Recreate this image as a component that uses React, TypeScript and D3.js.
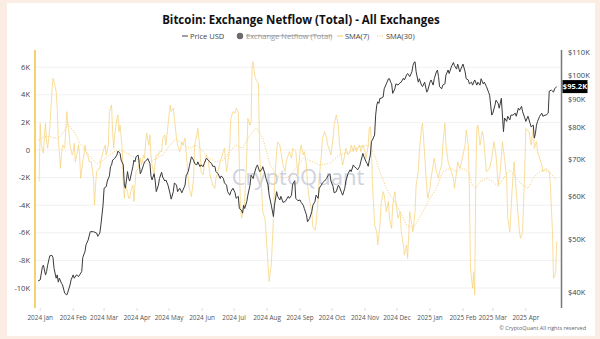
import React from "react";
import * as d3 from "d3";

const TITLE = "Bitcoin: Exchange Netflow (Total) - All Exchanges";
const LEGEND_PRICE = "Price USD";
const LEGEND_NETFLOW = "Exchange Netflow (Total)";
const LEGEND_SMA7 = "SMA(7)";
const LEGEND_SMA30 = "SMA(30)";
const COPYRIGHT = "© CryptoQuant All rights reserved";
const WATERMARK = "CryptoQuant";
const LAST_PRICE_LABEL = "$95.2K";

// day offset from 2023-12-29 (UTC)
const START = Date.UTC(2023, 11, 29);

// [day, BTC price in $K]
const PRICE: [number, number][] = [
  [1,41.9],[3,42.1],[5,44.4],[6,44.8],[8,43.0],[9,43.6],[10,44.8],[12,46.6],[14,46.7],[15,46.3],[16,44.2],[18,42.4],[19,43.0],[20,41.7],[21,42.4],[23,41.5],[24,41.2],[26,39.8],[28,39.5],[29,40.0],[31,41.2],[32,42.1],[34,43.0],[35,42.4],[37,43.0],[39,42.7],[40,43.0],[42,43.6],[43,46.3],[45,47.4],[46,48.8],[48,49.8],[50,51.6],[53,51.6],[56,51.3],[57,50.6],[59,51.3],[60,53.1],[62,57.7],[63,62.0],[65,62.4],[66,63.9],[68,65.3],[69,67.9],[70,68.4],[71,69.8],[73,70.3],[75,71.3],[76,72.5],[78,71.8],[79,69.8],[81,68.4],[82,62.8],[83,62.0],[85,66.5],[86,64.6],[87,63.9],[89,66.5],[90,67.9],[91,69.8],[92,69.3],[93,70.8],[95,71.3],[96,68.8],[97,65.9],[98,66.5],[100,68.4],[101,69.3],[103,69.8],[104,70.3],[106,68.8],[107,65.3],[108,64.2],[110,65.9],[111,63.9],[112,61.1],[114,62.8],[115,64.6],[117,66.3],[118,65.0],
  [120,63.9],[121,64.2],[123,62.8],[125,60.5],[126,59.2],[128,61.1],[129,63.4],[131,62.8],[132,61.1],[134,62.0],[136,60.8],[137,61.5],[139,62.8],[140,65.3],[142,66.5],[143,67.9],[145,70.8],[147,69.8],[148,68.8],[150,68.4],[151,69.3],[153,67.9],[154,68.4],[156,67.9],[157,68.8],[159,70.3],[161,69.8],[162,69.3],[164,68.8],[165,68.0],[167,68.0],[168,66.5],[170,65.9],[172,64.6],[173,65.3],[175,64.6],[176,63.4],[178,62.8],[179,61.1],[181,60.2],[182,61.1],[184,62.0],[186,60.8],[187,59.4],[189,59.9],[190,56.9],[192,56.5],[193,55.8],[194,57.7],[195,56.9],[197,58.6],[198,60.2],[200,62.8],[201,65.5],[203,64.6],[204,65.9],[206,67.9],[207,68.4],[209,66.5],[211,67.0],[212,67.9],[214,65.9],[215,64.6],[217,62.8],[218,60.2],[220,57.7],[222,55.0],[223,57.7],[225,61.1],[226,59.9],[228,59.0],[229,59.9],[231,58.4],[233,58.6],[234,59.0],[236,59.9],[237,59.4],[239,60.2],
  [240,63.0],[242,64.0],[243,59.4],[245,58.8],[247,59.0],[248,58.4],[250,57.7],[251,56.9],[253,55.4],[254,53.8],[256,54.6],[258,56.1],[259,57.7],[261,58.6],[262,60.2],[264,59.4],[265,62.0],[267,62.8],[268,63.4],[270,63.9],[272,64.6],[273,65.3],[275,65.9],[276,63.9],[278,62.4],[279,60.8],[281,61.1],[283,62.8],[284,62.4],[286,60.8],[287,60.2],[289,62.0],[290,63.9],[292,65.9],[294,67.0],[295,66.5],[297,68.4],[298,67.9],[300,67.4],[301,67.0],[303,68.0],[304,69.3],[306,71.8],[307,70.8],[309,69.3],[310,68.8],[311,68.0],[312,69.8],[313,71.3],[314,75.5],[315,76.0],[317,77.6],[318,84.4],[319,88.0],[320,89.3],[321,88.7],[322,90.6],[323,90.6],[325,91.1],[326,94.3],[328,96.3],[330,98.4],[331,98.4],[332,97.0],[333,96.3],[334,92.5],[336,94.3],[337,96.3],[339,95.8],[341,96.8],[342,97.0],[344,98.6],[345,97.9],[347,100.0],[348,100.6],[350,99.3],[352,101.3],[353,104.0],[354,105.4],[355,105.7],[356,101.3],[358,97.0],[359,98.4],[361,95.8],
  [362,95.2],[364,97.0],[366,93.0],[367,93.8],[369,97.0],[370,97.9],[372,95.8],[373,98.4],[375,101.3],[376,102.1],[377,99.3],[378,95.2],[380,94.3],[381,95.8],[383,96.3],[384,100.0],[386,102.1],[387,100.6],[389,103.4],[391,105.4],[392,104.0],[394,102.5],[395,104.7],[397,101.3],[398,102.5],[400,104.7],[402,101.3],[403,98.4],[405,97.9],[406,96.3],[408,97.0],[409,95.8],[411,97.9],[413,95.8],[414,97.0],[416,95.8],[417,98.4],[419,96.3],[420,97.0],[422,95.2],[424,93.0],[425,91.8],[427,84.4],[428,85.1],[430,88.0],[431,89.9],[433,88.7],[434,86.9],[436,90.6],[438,78.7],[439,83.4],[441,82.2],[442,84.0],[444,82.7],[445,84.4],[447,84.4],[449,85.1],[450,84.0],[452,86.9],[453,86.2],[455,87.6],[456,85.6],[458,83.4],[459,82.2],[461,84.0],[463,81.5],[464,80.3],[466,80.9],[467,76.6],[468,78.1],[469,80.9],[470,82.2],[472,84.0],[474,85.1],[475,84.0],[477,84.4],[478,84.4],[480,85.1],[481,93.4],[483,93.8],[485,93.0],[486,94.3],[488,95.2]
];

// [day, netflow SMA(7) in K BTC]
const SMA7: [number, number][] = [
  [2,-2.29],[3,1.93],[4,0.36],[6,-0.24],[7,1.09],[8,1.93],[9,0.6],[10,0.12],[11,0.85],[12,1.57],[14,4.23],[15,5.19],[16,4.95],[18,4.23],[19,3.02],[20,0.6],[21,-0.12],[22,-1.33],[23,-0.36],[24,0.36],[26,0.12],[28,2.78],[29,1.81],[30,1.33],[31,0.36],[33,-0.36],[34,-0.12],[35,0.48],[36,-0.85],[38,-0.12],[39,0.36],[40,-0.36],[41,-2.05],[43,-0.85],[44,-0.36],[45,0.36],[46,-0.12],[48,-0.48],[49,-0.85],[51,-0.85],[53,-2.05],[54,-3.99],[55,-2.54],[56,-1.57],[58,-1.33],[59,-1.33],[60,-0.72],[62,-0.12],[64,0.36],[65,-0.36],[67,0.36],[68,2.78],[70,3.26],[71,1.33],[72,0.12],[73,1.09],[75,2.29],[76,2.54],[77,1.33],[78,1.81],[80,0.12],[81,-2.29],[82,-3.5],[83,-2.54],[85,-3.02],[86,-3.5],[87,-3.5],[88,-3.02],[90,-2.54],[91,-3.74],[92,-2.54],[93,-1.57],[95,-1.33],[96,-0.85],[97,-0.6],[98,-1.09],[100,-0.36],[101,-0.6],[102,0.6],[103,1.21],[105,0.36],[106,1.09],[107,-0.36],[108,-1.09],[110,-1.81],[111,-0.85],[112,-0.36],[114,-0.36],[115,-0.12],[117,-0.12],[118,0.85],
  [120,1.09],[121,0.36],[123,1.81],[125,3.26],[126,2.78],[128,3.02],[129,2.29],[131,0.85],[132,0.36],[134,-0.12],[136,0.6],[137,0.36],[139,0.85],[140,-0.12],[142,-2.05],[143,-2.78],[145,-3.38],[147,-2.05],[148,0.36],[150,1.09],[151,1.57],[153,0.12],[154,-1.57],[156,-1.81],[157,-1.09],[159,-0.36],[161,-0.85],[162,-1.57],[164,-2.29],[165,-2.54],[167,-2.78],[168,-2.05],[170,-1.57],[172,-0.85],[173,-0.6],[175,-0.12],[176,0.12],[178,-1.57],[179,-1.09],[181,0.36],[182,2.29],[184,2.78],[186,2.66],[187,3.02],[189,2.78],[190,-1.09],[191,-3.99],[192,-4.95],[193,-4.71],[195,-3.74],[197,-0.36],[198,2.29],[200,1.81],[201,2.05],[202,6.16],[203,6.4],[204,5.68],[205,5.19],[207,4.95],[208,4.71],[209,-0.12],[211,-3.02],[212,-4.47],[214,-4.95],[215,-5.92],[217,-8.33],[218,-9.54],[219,-8.82],[220,-8.33],[222,-4.95],[223,-2.54],[225,-0.12],[226,0.6],[228,0.36],[229,-0.12],[231,-1.09],[233,-1.57],[234,-0.85],[236,-0.36],[237,-0.12],[239,-0.6],[240,0.12],
  [243,-0.12],[245,-1.81],[247,-0.12],[248,0.36],[250,-0.36],[251,-0.12],[253,-1.09],[254,-2.54],[256,-3.74],[258,-4.47],[259,-5.56],[261,-5.8],[262,-5.43],[264,-3.5],[265,-2.05],[267,-0.36],[268,0.85],[270,1.33],[272,0.85],[273,0.36],[275,-0.12],[276,-0.36],[278,0.85],[279,1.81],[281,2.54],[283,1.81],[284,0.36],[286,-0.6],[287,-1.09],[289,-0.36],[290,0.12],[292,-0.36],[294,-0.12],[295,0.36],[297,-0.12],[298,0.36],[300,-0.12],[301,0.12],[303,0.36],[304,-0.12],[306,0.36],[308,-0.12],[309,-0.6],[311,0.36],[312,1.57],[313,1.69],[314,0.36],[315,-2.54],[317,-5.43],[319,-5.92],[320,-6.88],[322,-5.43],[323,-3.99],[325,-3.02],[326,-3.26],[328,-4.47],[330,-3.74],[331,-4.95],[333,-5.68],[334,-3.99],[336,-3.02],[337,-3.74],[339,-4.95],[341,-4.47],[342,-5.92],[344,-6.88],[345,-7.6],[347,-6.88],[348,-7.85],[350,-4.47],[352,-5.43],[353,-5.92],[355,-4.47],[356,-2.54],[358,-1.57],[359,-0.12],[361,1.57],[362,1.93],
  [364,-0.36],[366,-2.78],[367,-3.5],[369,-2.78],[370,-2.05],[372,-1.09],[373,-0.6],[375,-1.57],[377,-2.05],[378,-1.57],[380,-1.09],[381,0.36],[383,1.93],[384,0.36],[386,-0.85],[388,-1.33],[389,-1.57],[391,-2.05],[392,-2.78],[394,-1.57],[395,-0.85],[397,-1.33],[398,-1.09],[400,-0.36],[402,0.36],[403,1.45],[405,0.36],[406,-2.78],[407,-8.57],[409,-10.02],[410,-8.82],[411,-10.5],[412,-2.05],[413,1.57],[414,1.81],[416,0.36],[418,1.33],[419,1.09],[422,-1.57],[425,-1.33],[427,-0.6],[429,0.6],[431,-0.36],[433,-2.54],[435,-1.57],[437,0.6],[439,-0.6],[441,-2.05],[442,-4.95],[444,-5.92],[446,-3.02],[448,-0.85],[450,-3.02],[453,-5.92],[454,-6.4],[456,-5.92],[458,-1.33],[459,1.57],[462,1.33],[464,0.36],[466,1.57],[467,0.12],[469,0.6],[470,-0.12],[474,-1.09],[475,-1.57],[478,-1.33],[481,-1.57],[482,-2.54],[484,-5.92],[485,-9.3],[487,-8.9],[488,-6.64]
];

// [day, netflow SMA(30) in K BTC]
const SMA30: [number, number][] = [
  [1,0.72],[5,0.9],[10,1.0],[15,0.9],[20,0.85],[25,1.3],[29,1.9],[32,1.6],[36,1.2],[40,0.5],[45,0.0],[50,-0.5],[56,-0.97],[61,-0.8],[66,-0.48],[71,-0.2],[75,0.0],[81,-0.1],[87,-0.36],[95,-0.7],[103,-0.97],[110,-0.7],[118,-0.36],
  [125,0.36],[131,0.85],[137,0.36],[143,0.12],[150,0.36],[156,-0.12],[162,-0.6],[168,-0.85],[175,-0.72],[181,-0.12],[187,0.36],[193,0.12],[200,1.09],[206,1.6],[212,0.85],[219,-1.09],[225,-1.81],[231,-2.05],[237,-1.9],[244,-1.2],[250,-0.6],
  [259,-0.85],[265,-1.09],[275,-0.97],[284,-0.36],[294,-0.12],[303,0.24],[312,0.36],[317,-0.36],[322,-1.57],[328,-2.78],[334,-3.5],[341,-4.47],[347,-5.43],[353,-5.68],[359,-4.95],[362,-4.5],
  [369,-3.5],[375,-2.78],[381,-1.57],[388,-1.33],[394,-1.57],[400,-1.33],[405,-1.6],[409,-2.6],[412,-2.78],[416,-2.29],[422,-2.05],[428,-2.29],[433,-2.66],[439,-1.93],[444,-1.45],[450,-2.05],[456,-2.54],[461,-2.78],[466,-2.05],[470,-1.69],[475,-1.45],[481,-1.57],[486,-2.05],[488,-2.17]
];

const LEFT_TICKS = [6, 4, 2, 0, -2, -4, -6, -8, -10];
const RIGHT_TICKS = [110, 100, 90, 80, 70, 60, 50, 40];

const W = 600;
const H = 339;
const PL = 35;
const PR = 561;
const PT = 50;
const PB = 308;
const FONT = "'Open Sans', 'Noto Sans', sans-serif";

const toDate = (d: number) => new Date(START + d * 86400000);

export default function App() {
  const x = d3.scaleUtc().domain([toDate(-1.88), toDate(492.02)]).range([PL, PR]);
  const yL = d3.scaleLinear().domain([-11.449, 7.246]).range([PB, PT]);
  const yR = d3.scaleLog().domain([37.39, 111.1]).range([PB, PT]);

  const priceLine = d3
    .line<[number, number]>()
    .x((d) => x(toDate(d[0])))
    .y((d) => yR(d[1]));
  const flowLine = d3
    .line<[number, number]>()
    .x((d) => x(toDate(d[0])))
    .y((d) => yL(d[1]));

  const months = d3.utcMonth.range(new Date(Date.UTC(2024, 0, 1)), new Date(Date.UTC(2025, 4, 1)));
  const fmtMonth = d3.utcFormat("%Y %b");
  const fmtLeft = (v: number) => (v === 0 ? "0" : `${v}K`);
  const lastPrice = PRICE[PRICE.length - 1];

  const SMA_COLOR = "#f7d27c";

  return (
    <>
      <style>{`body{margin:0;}`}</style>
      <svg width={W} height={H} style={{ display: "block", fontFamily: FONT }}>
        <rect x={0} y={0} width={W} height={H} fill="#fbece4" />
        <rect x={7} y={3} width={588} height={333} fill="#ffffff" />

        {/* title */}
        <text x={301} y={24} textAnchor="middle" fontSize={11.5} fontWeight={700} fill="#111">
          {TITLE}
        </text>

        {/* legend */}
        <g fontSize={7.5} fill="#444">
          <line x1={182} x2={188} y1={36} y2={36} stroke="#444" strokeWidth={1} />
          <text x={190} y={38.5}>{LEGEND_PRICE}</text>
          <circle cx={240} cy={36} r={3.2} fill="#6b6b6b" />
          <text x={246} y={38.5} fill="#999" textDecoration="line-through">{LEGEND_NETFLOW}</text>
          <line x1={337} x2={343} y1={36} y2={36} stroke={SMA_COLOR} strokeWidth={1.2} />
          <text x={345} y={38.5}>{LEGEND_SMA7}</text>
          <line x1={377} x2={384} y1={36} y2={36} stroke={SMA_COLOR} strokeWidth={1.2} strokeDasharray="1.2,1.2" />
          <text x={386} y={38.5}>{LEGEND_SMA30}</text>
        </g>

        {/* grid */}
        {LEFT_TICKS.map((t) => (
          <line key={t} x1={PL} x2={PR} y1={yL(t)} y2={yL(t)} stroke="#f1f1f1" strokeWidth={1} />
        ))}

        {/* watermark */}
        <text x={298} y={185} textAnchor="middle" fontSize={22} fill="#c4c8d6" opacity={0.8}>
          {WATERMARK}
        </text>

        {/* series */}
        <path d={flowLine(SMA30) || ""} fill="none" stroke="#f5c860" strokeWidth={1} strokeDasharray="1,1.6" opacity={0.95} />
        <path d={flowLine(SMA7) || ""} fill="none" stroke={SMA_COLOR} strokeWidth={0.9} opacity={0.85} />
        <path d={priceLine(PRICE) || ""} fill="none" stroke="#3a3a3a" strokeWidth={1} />

        {/* left axis */}
        <line x1={PL} x2={PL} y1={PT} y2={PB} stroke="#f3c33c" strokeWidth={1.5} />
        {LEFT_TICKS.map((t) => (
          <text key={t} x={30} y={yL(t) + 2.6} textAnchor="end" fontSize={7.5} fill="#444">
            {fmtLeft(t)}
          </text>
        ))}

        {/* right axis */}
        <line x1={PR + 0.5} x2={PR + 0.5} y1={PT} y2={PB} stroke="#777" strokeWidth={1.5} />
        {RIGHT_TICKS.map((t) => (
          <text key={t} x={568} y={yR(t) + 2.6} fontSize={7.5} fill="#444">
            {`$${t}K`}
          </text>
        ))}
        <rect x={562.5} y={yR(lastPrice[1]) - 6.5} width={25} height={13} fill="#000" />
        <text x={575} y={yR(lastPrice[1]) + 2.7} textAnchor="middle" fontSize={7.5} fontWeight={700} fill="#fff">
          {LAST_PRICE_LABEL}
        </text>

        {/* x axis */}
        {months.map((m) => (
          <g key={m.getTime()}>
            <line x1={x(m)} x2={x(m)} y1={PB} y2={PB + 3} stroke="#ddd" />
            <text x={x(m)} y={320} textAnchor="middle" fontSize={6.4} fill="#555">
              {fmtMonth(m)}
            </text>
          </g>
        ))}

        <text x={586} y={330} textAnchor="end" fontSize={5.5} fill="#666">
          {COPYRIGHT}
        </text>
      </svg>
    </>
  );
}
